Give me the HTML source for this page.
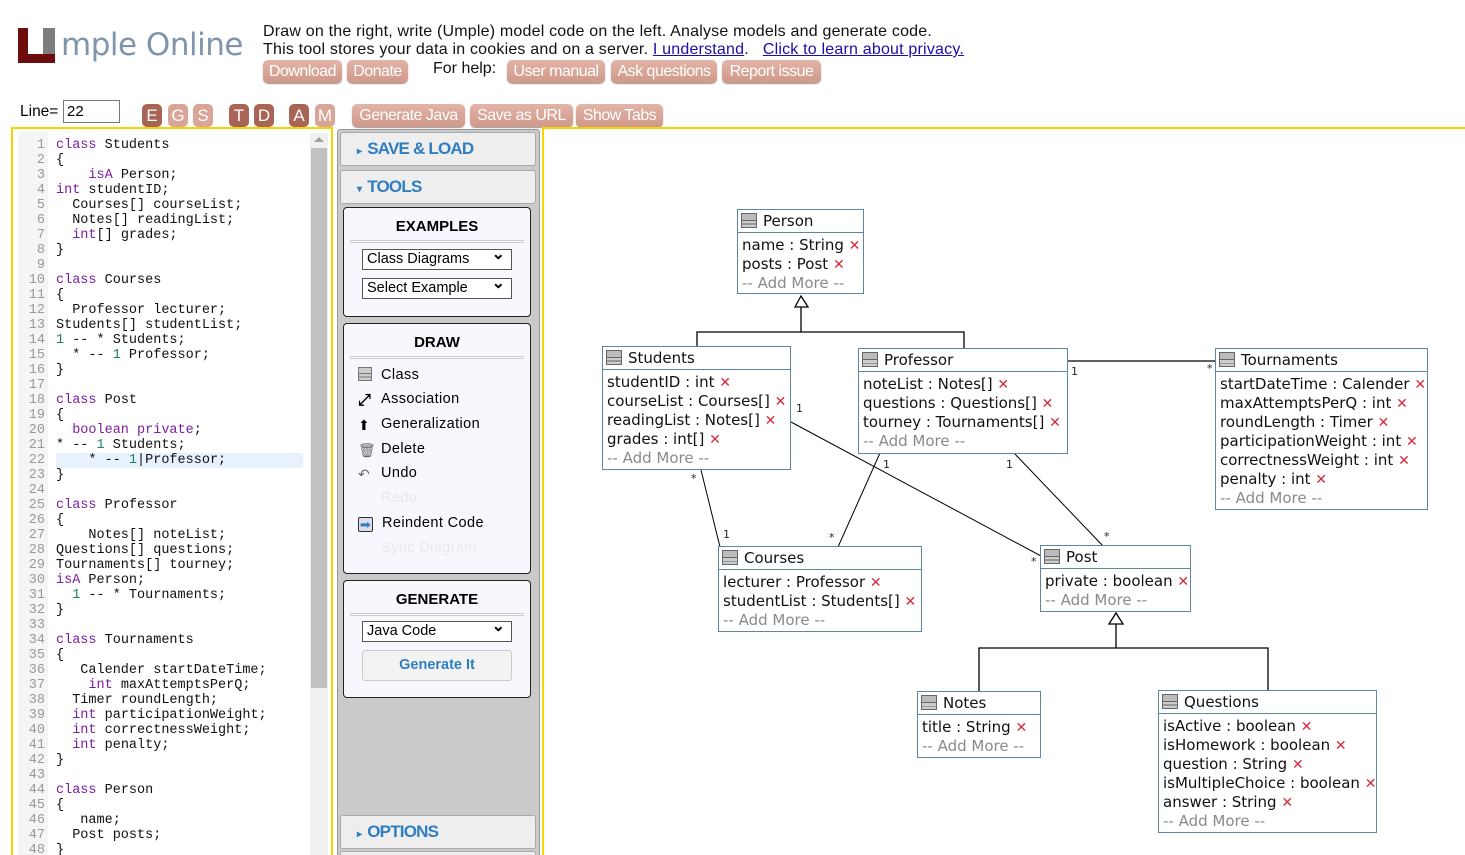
<!DOCTYPE html>
<html style="height:855px;overflow:hidden"><head><meta charset="utf-8">
<style>
body{margin:0;width:1465px;height:855px;overflow:hidden;background:#fff;font-family:"Liberation Sans",Arial,sans-serif;position:relative}
.a{position:absolute}
.btn{position:absolute;top:60px;height:23px;background:linear-gradient(#e2b4a8,#d09888);border-radius:5px;color:#fff;font-size:16px;line-height:23px;text-align:center;letter-spacing:-0.5px;box-shadow:0 1px 1px #999}
.lb{position:absolute;top:104px;height:23px;width:20px;border-radius:5px;color:#fff;font-size:17px;line-height:23px;text-align:center}
.dk{background:#a86454}.lt{background:#d9a597}
pre{margin:0;font-family:"Liberation Mono",monospace;font-size:13.5px;line-height:15px}
.k{color:#7d1e9e}.n{color:#16806b}
.hdr{position:absolute;left:340px;width:194px;height:32px;background:#eeeeee;border:1px solid #aaa;border-radius:3px;color:#2f7ec1;font-weight:bold;font-size:17px;line-height:32px;letter-spacing:-0.8px}
.box{position:absolute;left:343px;width:186px;background:#f7f8fd;border:1px solid #222;border-radius:4px}
.box h4{margin:0;text-align:center;font-size:15px;font-weight:bold;padding-top:10px;height:22px;border-bottom:3px double #ccc;margin:0 6px}
.sel{position:absolute;left:18px;width:144px;height:19px;border:1px solid #555;background:#fff;font-size:14.5px;line-height:19px;padding-left:4px}
.sel:after{content:"⌄";position:absolute;right:6px;top:-5px;font-size:16px;font-weight:bold}
.it{position:absolute;left:14px;font-size:14.5px;letter-spacing:0.4px}
.ic{display:inline-block;width:14px;height:14px;margin-right:9px;vertical-align:-2px}
.cl{position:absolute;border:1px solid #5b87a3;background:#fff;font-family:"DejaVu Sans",Verdana,sans-serif;font-size:15px;color:#111;overflow:hidden}
.cl .h{height:22px;border-bottom:1px solid #5b87a3;line-height:22px;padding-left:3px;white-space:nowrap}
.cl .h i{display:inline-block;width:14px;height:13px;border:1px solid #666;background:linear-gradient(#bbb 0,#bbb 45%,#666 45%,#666 55%,#ccc 55%,#ccc 75%,#666 75%,#666 80%,#ccc 80%);vertical-align:-2px;margin-right:6px}
.cl .b{padding:3px 0 0 4px;line-height:19px;white-space:nowrap}
.x{color:#d42a3c;font-size:14px;line-height:0}
.am{color:#8a8a8a}
.lab{position:absolute;font-family:"DejaVu Sans",Verdana,sans-serif;font-size:11px;color:#222}
</style></head><body>

<!-- logo -->
<div class="a" style="left:18px;top:28px;width:10px;height:35px;background:#6e0d0d"></div>
<div class="a" style="left:18px;top:54px;width:37px;height:9px;background:#6e0d0d"></div>
<div class="a" style="left:43px;top:28px;width:12px;height:26px;background:#7d7d7d"></div>
<div class="a" style="left:61px;top:27px;font-family:'DejaVu Sans',sans-serif;font-size:31px;color:#7f95ab;letter-spacing:-0.5px">mple Online</div>

<div class="a" style="left:263px;top:23px;font-size:16px;line-height:18px;color:#111;letter-spacing:0.2px;white-space:nowrap">Draw on the right, write (Umple) model code on the left. Analyse models and generate code.<br>This tool stores your data in cookies and on a server. <span style="color:#1a0dab;text-decoration:underline">I understand</span>. &nbsp; <span style="color:#1a0dab;text-decoration:underline">Click to learn about privacy.</span></div>
<div class="btn" style="left:263px;width:79px">Download</div>
<div class="btn" style="left:347px;width:61px">Donate</div>
<div class="a" style="left:433px;top:60px;font-size:16px;color:#111">For help:</div>
<div class="btn" style="left:507px;width:98px">User manual</div>
<div class="btn" style="left:611px;width:106px">Ask questions</div>
<div class="btn" style="left:722px;width:99px">Report issue</div>

<div class="a" style="left:20px;top:103px;font-size:15.5px">Line=</div>
<div class="a" style="left:63px;top:100px;border:1px solid #777;font-size:15px;line-height:21px;padding-left:3px;box-sizing:border-box;width:57px;height:23px">22</div>
<div class="lb dk" style="left:142px">E</div><div class="lb lt" style="left:168px">G</div><div class="lb lt" style="left:193px">S</div>
<div class="lb dk" style="left:229px">T</div><div class="lb dk" style="left:254px">D</div>
<div class="lb dk" style="left:289px">A</div><div class="lb lt" style="left:315px">M</div>
<div class="btn" style="top:104px;left:352px;width:113px">Generate Java</div>
<div class="btn" style="top:104px;left:470px;width:103px">Save as URL</div>
<div class="btn" style="top:104px;left:576px;width:87px">Show Tabs</div>

<!-- editor -->
<div class="a" style="left:11px;top:127px;width:318px;height:730px;border:2px solid #f3d500;border-bottom:none"></div>
<div class="a" style="left:18px;top:132px;width:30px;height:723px;background:#f5f5f5"></div>
<div class="a" style="left:310px;top:133px;width:18px;height:722px;background:#f0f0f0"></div>
<div class="a" style="left:311px;top:148px;width:16px;height:540px;background:#c1c1c1"></div>
<div class="a" style="left:314px;top:137px;width:0;height:0;border:5px solid transparent;border-bottom:5px solid #a0a0a0;border-top:none"></div>
<div class="a" style="left:56px;top:453px;width:247px;height:15px;background:#e8f2fe"></div>
<pre class="a" style="left:18px;top:138px;width:27px;text-align:right;color:#999">1
2
3
4
5
6
7
8
9
10
11
12
13
14
15
16
17
18
19
20
21
22
23
24
25
26
27
28
29
30
31
32
33
34
35
36
37
38
39
40
41
42
43
44
45
46
47
48</pre>
<pre class="a" style="left:56px;top:138px;color:#111"><span class="k">class</span> Students
{
    <span class="k">isA</span> Person;
<span class="k">int</span> studentID;
  Courses[] courseList;
  Notes[] readingList;
  <span class="k">int</span>[] grades;
}

<span class="k">class</span> Courses
{
  Professor lecturer;
Students[] studentList;
<span class="n">1</span> -- * Students;
  * -- <span class="n">1</span> Professor;
}

<span class="k">class</span> Post
{
  <span class="k">boolean</span> <span class="k">private</span>;
* -- <span class="n">1</span> Students;
    * -- <span class="n">1</span>|Professor;
}

<span class="k">class</span> Professor
{
    Notes[] noteList;
Questions[] questions;
Tournaments[] tourney;
<span class="k">isA</span> Person;
  <span class="n">1</span> -- * Tournaments;
}

<span class="k">class</span> Tournaments
{
   Calender startDateTime;
    <span class="k">int</span> maxAttemptsPerQ;
  Timer roundLength;
  <span class="k">int</span> participationWeight;
  <span class="k">int</span> correctnessWeight;
  <span class="k">int</span> penalty;
}

<span class="k">class</span> Person
{
   name;
  Post posts;
}</pre>

<!-- middle panel -->
<div class="a" style="left:337px;top:129px;width:201px;height:730px;background:#cacaca;border:1px solid #999;border-radius:3px"></div>
<div class="hdr" style="top:132px"><span style="font-size:10px;margin:0 6px 0 16px">▸</span>SAVE &amp; LOAD</div>
<div class="hdr" style="top:170px"><span style="font-size:10px;margin:0 6px 0 16px">▾</span>TOOLS</div>
<div class="box" style="top:207px;height:108px"><h4>EXAMPLES</h4>
<div class="sel" style="top:41px">Class Diagrams</div>
<div class="sel" style="top:70px">Select Example</div></div>
<div class="box" style="top:323px;height:249px"><h4>DRAW</h4>
<div class="it" style="top:43px"><span class="ic" style="border:1px solid #777;background:linear-gradient(#ccc 40%,#777 40%,#777 50%,#ccc 50%,#ccc 70%,#777 70%,#777 78%,#ccc 78%);width:12px;height:12px"></span>Class</div>
<div class="it" style="top:67px"><span class="ic" style="font-size:16px;line-height:14px;font-weight:bold">⤢</span>Association</div>
<div class="it" style="top:92px"><span class="ic" style="font-size:14px;line-height:14px">⬆</span>Generalization</div>
<div class="it" style="top:117px"><span class="ic" style="font-size:14px;line-height:14px;color:#666">🗑</span>Delete</div>
<div class="it" style="top:141px"><span class="ic" style="font-size:14px;line-height:14px;color:#666">↶</span>Undo</div>
<div class="it" style="top:166px;color:#e8e8ee"><span class="ic"></span>Redo</div>
<div class="it" style="top:191px"><span class="ic" style="border:1px solid #333;background:#dde;color:#2f7ec1;font-size:13px;line-height:14px;text-align:center;width:13px;height:13px;border-radius:2px">➡</span>Reindent Code</div>
<div class="it" style="top:216px;color:#e8e8ee"><span class="ic"></span>Sync Diagram</div></div>
<div class="box" style="top:580px;height:116px"><h4>GENERATE</h4>
<div class="sel" style="top:40px">Java Code</div>
<div class="a" style="left:18px;top:69px;width:148px;height:29px;border:1px solid #ccc;background:#f3f3f3;border-radius:3px;color:#2f7ec1;font-weight:bold;font-size:14.5px;line-height:29px;text-align:center">Generate It</div></div>
<div class="hdr" style="top:815px"><span style="font-size:10px;margin:0 6px 0 16px">▸</span>OPTIONS</div>
<div class="hdr" style="top:851px"></div>

<!-- canvas -->
<div class="a" style="left:542px;top:127px;width:930px;height:730px;border-top:2px solid #f3d500;border-left:2px solid #f3d500"></div>

<svg class="a" style="left:0;top:0" width="1465" height="855">
<g stroke="#000" stroke-width="1.3" fill="none">
<polygon points="801,296 795,307 808,307" fill="#fff"/>
<polyline points="801,307 801,332"/>
<polyline points="697,346 697,332 964,332 964,348"/>
<polygon points="1116,613 1109,624 1123,624" fill="#fff"/>
<polyline points="1116,624 1116,648"/>
<polyline points="979,691 979,648 1268,648 1268,690"/>
<line x1="1067" y1="361" x2="1215" y2="361"/>
</g>
<g stroke="#000" stroke-width="1" fill="none">
<line x1="791" y1="422" x2="1041" y2="556"/>
<line x1="701" y1="470" x2="720" y2="547"/>
<line x1="880" y1="453" x2="838" y2="547"/>
<line x1="1014" y1="453" x2="1103" y2="546"/>
</g>
</svg>
<div class="lab" style="left:1071px;top:365px">1</div>
<div class="lab" style="left:1207px;top:362px">*</div>
<div class="lab" style="left:796px;top:402px">1</div>
<div class="lab" style="left:1031px;top:555px">*</div>
<div class="lab" style="left:691px;top:472px">*</div>
<div class="lab" style="left:723px;top:528px">1</div>
<div class="lab" style="left:883px;top:458px">1</div>
<div class="lab" style="left:829px;top:531px">*</div>
<div class="lab" style="left:1006px;top:458px">1</div>
<div class="lab" style="left:1104px;top:530px">*</div>

<div class="cl" style="left:737px;top:209px;width:125px;height:83px"><div class="h"><i></i>Person</div><div class="b">name : String <span class="x">✕</span><br>posts : Post <span class="x">✕</span><br><span class="am">-- Add More --</span></div></div>
<div class="cl" style="left:602px;top:346px;width:187px;height:122px"><div class="h"><i></i>Students</div><div class="b">studentID : int <span class="x">✕</span><br>courseList : Courses[] <span class="x">✕</span><br>readingList : Notes[] <span class="x">✕</span><br>grades : int[] <span class="x">✕</span><br><span class="am">-- Add More --</span></div></div>
<div class="cl" style="left:858px;top:348px;width:208px;height:104px"><div class="h"><i></i>Professor</div><div class="b">noteList : Notes[] <span class="x">✕</span><br>questions : Questions[] <span class="x">✕</span><br>tourney : Tournaments[] <span class="x">✕</span><br><span class="am">-- Add More --</span></div></div>
<div class="cl" style="left:1215px;top:348px;width:211px;height:160px"><div class="h"><i></i>Tournaments</div><div class="b">startDateTime : Calender <span class="x">✕</span><br>maxAttemptsPerQ : int <span class="x">✕</span><br>roundLength : Timer <span class="x">✕</span><br>participationWeight : int <span class="x">✕</span><br>correctnessWeight : int <span class="x">✕</span><br>penalty : int <span class="x">✕</span><br><span class="am">-- Add More --</span></div></div>
<div class="cl" style="left:718px;top:546px;width:202px;height:84px"><div class="h"><i></i>Courses</div><div class="b">lecturer : Professor <span class="x">✕</span><br>studentList : Students[] <span class="x">✕</span><br><span class="am">-- Add More --</span></div></div>
<div class="cl" style="left:1040px;top:545px;width:149px;height:65px"><div class="h"><i></i>Post</div><div class="b">private : boolean <span class="x">✕</span><br><span class="am">-- Add More --</span></div></div>
<div class="cl" style="left:917px;top:691px;width:122px;height:65px"><div class="h"><i></i>Notes</div><div class="b">title : String <span class="x">✕</span><br><span class="am">-- Add More --</span></div></div>
<div class="cl" style="left:1158px;top:690px;width:217px;height:141px"><div class="h"><i></i>Questions</div><div class="b">isActive : boolean <span class="x">✕</span><br>isHomework : boolean <span class="x">✕</span><br>question : String <span class="x">✕</span><br>isMultipleChoice : boolean <span class="x">✕</span><br>answer : String <span class="x">✕</span><br><span class="am">-- Add More --</span></div></div>
</body></html>
